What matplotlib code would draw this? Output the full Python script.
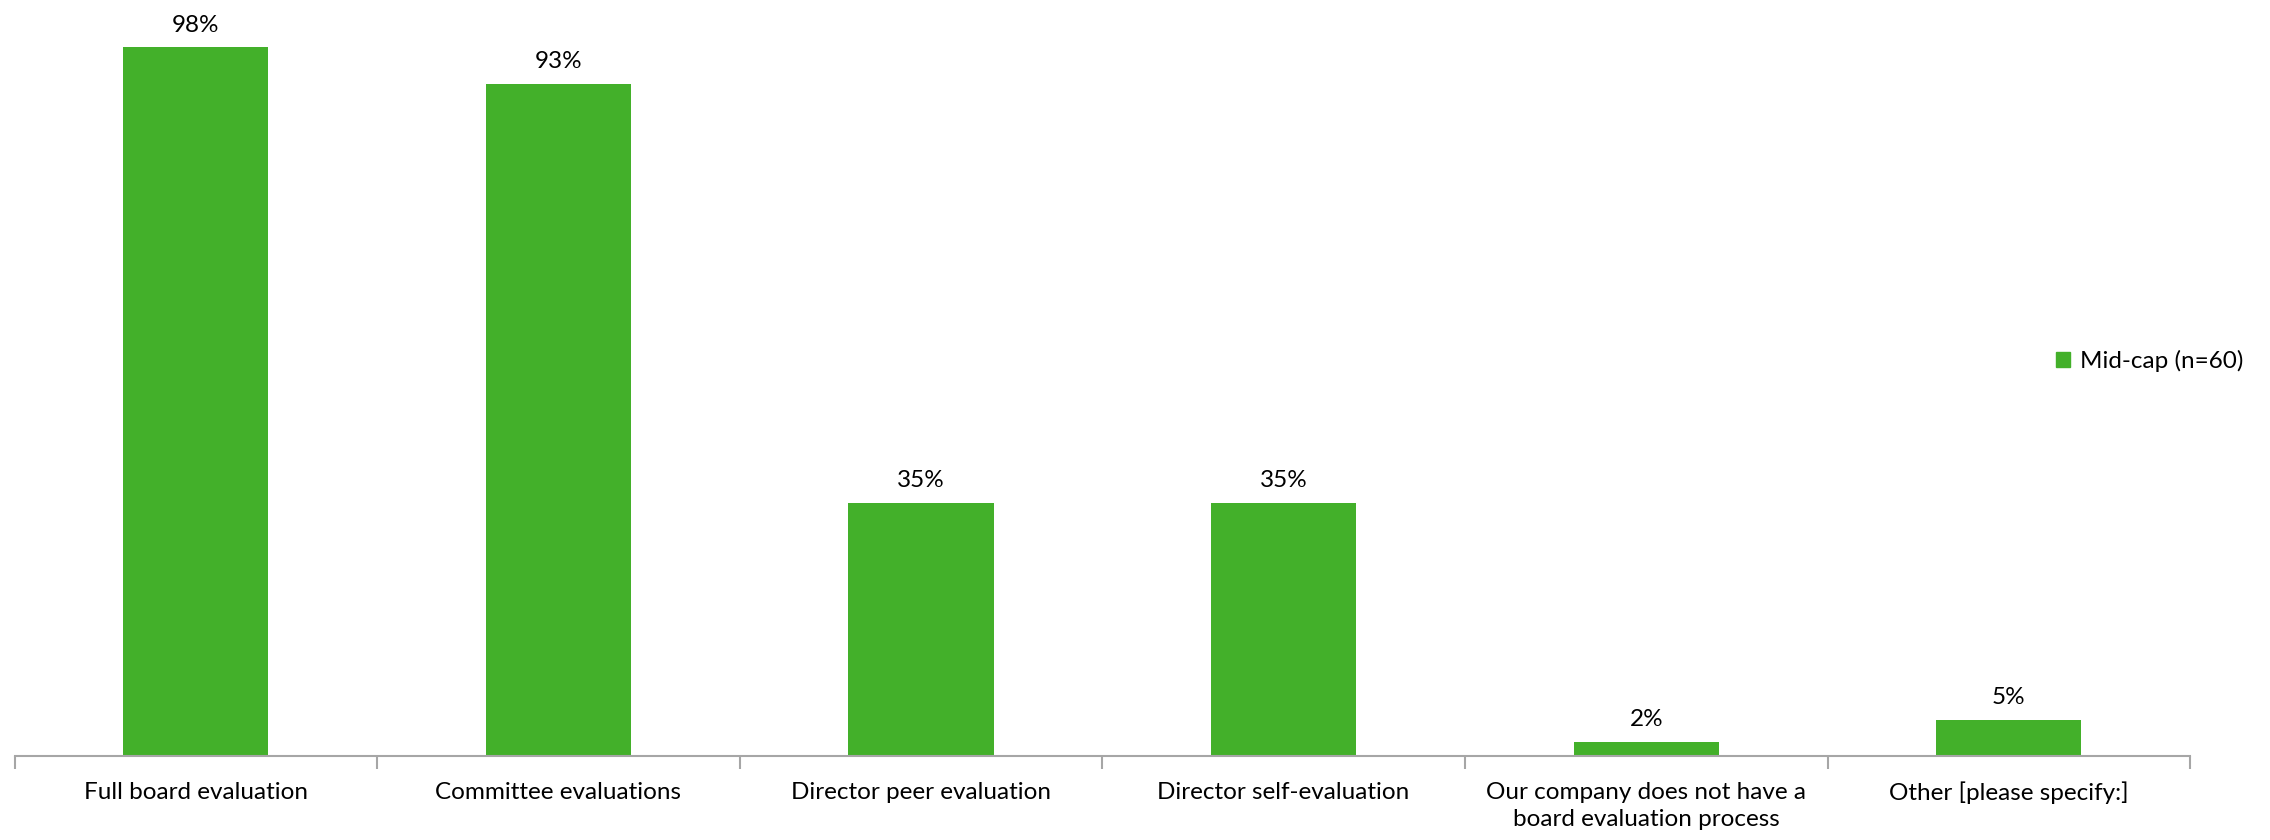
import matplotlib
matplotlib.use("Agg")
import matplotlib.pyplot as plt
from matplotlib.patches import Patch

categories = ["Full board evaluation", "Committee evaluations", "Director peer evaluation",
              "Director self-evaluation", "Our company does not have a\nboard evaluation process",
              "Other [please specify:]"]
values = [98, 93, 35, 35, 2, 5]
labels = ["98%", "93%", "35%", "35%", "2%", "5%"]
series_name = "Mid-cap (n=60)"

plt.rcParams['font.family'] = ['Lato', 'DejaVu Sans']
green = "#43B02A"

fig = plt.figure(figsize=(22.7, 8.4), dpi=100)
ax = fig.add_axes([0.0064, 0.1, 0.9584, 0.8607])
x = list(range(len(categories)))
bars = ax.bar(x, values, width=0.4, color=green)
ax.set_ylim(0, 100)
ax.set_xlim(-0.5, len(categories) - 0.5)
for xi, v, lab in zip(x, values, labels):
    ax.annotate(lab, (xi, v), xytext=(0, 8.5), textcoords="offset points",
                ha="center", va="bottom", fontsize=17.5, color="black")

for s in ["top", "right", "left"]:
    ax.spines[s].set_visible(False)
ax.spines["bottom"].set_color("#A6A6A6")
ax.spines["bottom"].set_linewidth(1.5)
ax.set_yticks([])
ax.set_xticks([i - 0.5 for i in range(len(categories) + 1)], minor=False)
ax.set_xticklabels([])
ax.tick_params(axis="x", which="major", length=9, width=1.5, color="#A6A6A6")
ax.set_xticks(x, minor=True)
ax.set_xticklabels(categories, minor=True, fontsize=17.5, va="top", linespacing=1.4)
ax.tick_params(axis="x", which="minor", length=0, pad=18.5)

leg = fig.legend(handles=[Patch(color=green, label=series_name)], loc="center left",
                 bbox_to_anchor=(0.896, 0.570), frameon=False, fontsize=17.5,
                 handlelength=0.6, handleheight=0.6, handletextpad=0.4)
fig.savefig("out.png", dpi=100)
